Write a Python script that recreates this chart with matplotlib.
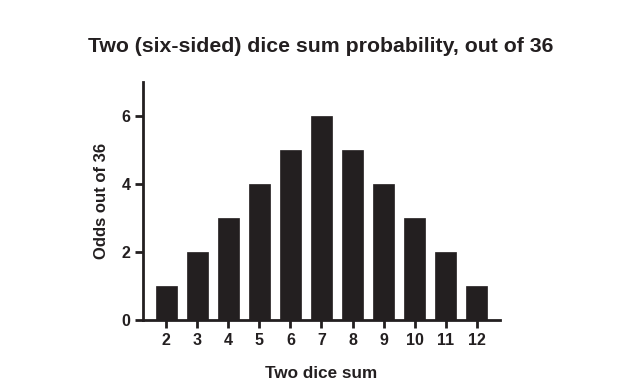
import matplotlib
matplotlib.use("Agg")
import matplotlib.pyplot as plt

sums = [2, 3, 4, 5, 6, 7, 8, 9, 10, 11, 12]
odds = [1, 2, 3, 4, 5, 6, 5, 4, 3, 2, 1]
yticks = [0, 2, 4, 6]

plt.rcParams['font.family'] = ['Liberation Sans', 'DejaVu Sans']
plt.rcParams['font.weight'] = 'bold'

fig = plt.figure(figsize=(6.36, 3.88), dpi=100)
ax = fig.add_axes([0.225, 0.175, 0.561, 0.614])
ax.bar(sums, odds, width=0.67, color='#231f20', edgecolor='#231f20', linewidth=0.5)
ax.set_xlim(1.26, 12.74)
ax.set_ylim(0, 7)
ax.set_xticks(sums)
ax.set_xticklabels([str(s) for s in sums])
ax.set_yticks(yticks)
for s in ['top', 'right']:
    ax.spines[s].set_visible(False)
for s in ['left', 'bottom']:
    ax.spines[s].set_linewidth(2)
    ax.spines[s].set_color('#231f20')
ax.tick_params(axis='both', direction='out', length=6, width=2, color='#231f20',
               labelsize=11.5, labelcolor='#231f20', pad=3)
for lbl in ax.get_xticklabels() + ax.get_yticklabels():
    lbl.set_fontweight('bold')
ax.set_xlabel('Two dice sum', fontsize=12.3, fontweight='bold', color='#231f20', labelpad=13)
ax.set_ylabel('Odds out of 36', fontsize=12, fontweight='bold', color='#231f20', labelpad=9)
fig.suptitle('Two (six-sided) dice sum probability, out of 36', x=0.505, y=0.905,
             fontsize=15.3, fontweight='bold', color='#231f20')
fig.savefig('out.png', dpi=100)
